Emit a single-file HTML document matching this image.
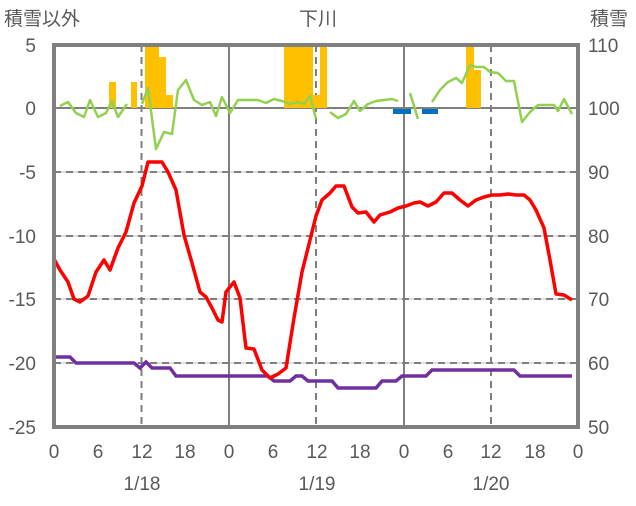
<!DOCTYPE html>
<html><head><meta charset="utf-8"><style>
body{margin:0;background:#fff;}
svg text{font-family:"Liberation Sans","Noto Sans CJK JP",sans-serif;fill:#595959;}
</style></head><body>
<svg width="636" height="501" viewBox="0 0 636 501" xmlns="http://www.w3.org/2000/svg">
<rect width="636" height="501" fill="#fff"/>
<!-- gridlines -->
<g stroke="#bfbfbf" stroke-width="1">
<line x1="54" y1="172" x2="578" y2="172"/><line x1="54" y1="236" x2="578" y2="236"/>
<line x1="54" y1="299" x2="578" y2="299"/><line x1="54" y1="363" x2="578" y2="363"/>
</g>
<g stroke="#7f7f7f" stroke-width="2" stroke-dasharray="7,5">
<line x1="54" y1="172" x2="578" y2="172"/><line x1="54" y1="236" x2="578" y2="236"/>
<line x1="54" y1="299" x2="578" y2="299"/><line x1="54" y1="363" x2="578" y2="363"/>
<line x1="141.5" y1="45" x2="141.5" y2="427"/><line x1="316" y1="45" x2="316" y2="427"/><line x1="491" y1="45" x2="491" y2="427"/>
</g>
<g stroke="#7f7f7f" stroke-width="2">
<line x1="229" y1="45" x2="229" y2="427"/><line x1="404" y1="45" x2="404" y2="427"/>
<line x1="54" y1="108" x2="578" y2="108"/>
</g>
<!-- bars -->
<g fill="#FFC000">
<rect x="109" y="82" width="7" height="26"/><rect x="131" y="82" width="6" height="26"/>
<rect x="145" y="45" width="14" height="63"/><rect x="159" y="57" width="7" height="51"/><rect x="166" y="95" width="7" height="13"/>
<rect x="284" y="45" width="29" height="63"/><rect x="313" y="95" width="7" height="13"/><rect x="320" y="45" width="7" height="63"/>
<rect x="466" y="45" width="8" height="63"/><rect x="474" y="70" width="7" height="38"/>
</g>
<g fill="#0070C0"><rect x="393" y="109" width="18" height="5"/><rect x="422" y="109" width="16" height="5"/></g>
<!-- green -->
<g fill="none" stroke="#92D050" stroke-width="2.5" stroke-linejoin="round">
<polyline points="60,106 68,102 76,113 84,117 90,100 98,117 106,113 112,101 118,117 127,104"/>
<polyline points="142,104 148,88 156,149 164,132 172,134 178,90 186,80 194,100 202,105 210,102 216,116 222,97 230,113 238,100 258,100 266,103 274,99 282,101 290,104 298,102 304,104 310,96 316,119"/>
<polyline points="330,112 338,118 346,114 354,101 360,111 368,104 376,101 384,100 392,99 398,101"/>
<polyline points="410,93 418,119"/>
<polyline points="432,102 440,90 448,82 456,78 462,83 470,65 476,67 484,67 490,72 498,73 506,81 514,81 522,122 530,112 538,105 554,105 558,111 564,99 572,114"/>
</g>
<!-- purple -->
<polyline fill="none" stroke="#7030A0" stroke-width="3.5" points="54,357 70,357 76,363 134,363 140,368 146,362 152,368 170,368 176,376 268,376 274,381 290,381 296,376 302,376 308,381 332,381 338,388 376,388 382,381 396,381 402,376 426,376 432,370 514,370 520,376 572,376"/>
<!-- red -->
<polyline fill="none" stroke="#FF0000" stroke-width="3.5" stroke-linejoin="round" points="54,259 60,270 68,282 74,299 80,302 88,296 96,272 104,260 110,270 118,248 126,232 134,203 142,186 148,162 154,162 162,162 168,172 176,190 184,235 192,263 200,292 206,297 212,308 218,320 222,322 226,292 234,282 240,298 246,348 254,349 262,370 270,378 278,374 286,368 294,318 302,272 310,240 316,216 322,200 330,193 336,186 344,186 352,207 358,213 366,212 374,222 380,215 390,212 398,208 406,206 414,203 420,202 428,206 436,202 444,193 452,193 460,200 468,206 476,200 484,197 492,195 500,195 508,194 516,195 524,195 530,200 536,210 544,228 550,260 556,294 564,295 572,300"/>
<!-- frame -->
<rect x="54" y="45" width="524" height="382" fill="none" stroke="#7f7f7f" stroke-width="4"/>
<!-- left labels -->
<g font-size="19" text-anchor="end">
<text x="36" y="52">5</text><text x="36" y="115">0</text><text x="36" y="179">-5</text>
<text x="36" y="243">-10</text><text x="36" y="306">-15</text><text x="36" y="370">-20</text><text x="36" y="434">-25</text>
</g>
<g font-size="19" text-anchor="start">
<text x="588" y="52">110</text><text x="588" y="115">100</text><text x="588" y="179">90</text>
<text x="588" y="243">80</text><text x="588" y="306">70</text><text x="588" y="370">60</text><text x="588" y="434">50</text>
</g>
<g font-size="19" text-anchor="middle">
<text x="54" y="458">0</text><text x="98" y="458">6</text><text x="142" y="458">12</text><text x="185" y="458">18</text>
<text x="229" y="458">0</text><text x="273" y="458">6</text><text x="317" y="458">12</text><text x="360" y="458">18</text>
<text x="404" y="458">0</text><text x="448" y="458">6</text><text x="491" y="458">12</text><text x="535" y="458">18</text><text x="578" y="458">0</text>
<text x="142" y="490">1/18</text><text x="317" y="490">1/19</text><text x="491" y="490">1/20</text>
<text x="318" y="25">下川</text>
</g>
<text x="4" y="25" font-size="19">積雪以外</text>
<text x="590" y="25" font-size="19">積雪</text>
</svg>
</body></html>
